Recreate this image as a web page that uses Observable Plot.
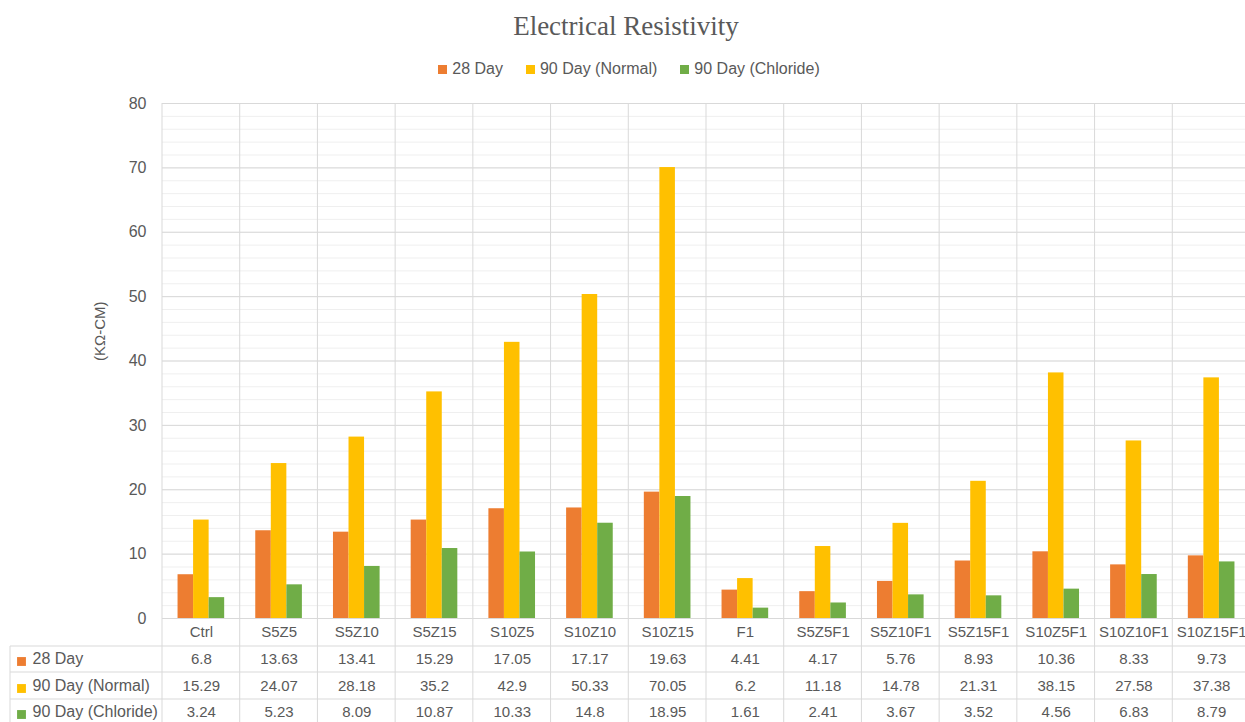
<!DOCTYPE html>
<html>
<head>
<meta charset="utf-8">
<script src="https://cdn.jsdelivr.net/npm/d3@7"></script>
<script src="https://cdn.jsdelivr.net/npm/@observablehq/plot@0.6"></script>
<style>
  html, body { margin: 0; padding: 0; overflow: hidden; background: #fff; font-family: "Liberation Sans", sans-serif; color: #595959; }
  #head { position: relative; width: 1245px; height: 88px; }
  #title { position: absolute; top: 11px; left: 0; width: 1252px; text-align: center; font-family: "Liberation Serif", serif; font-size: 27px; color: #595959; }
  #legend { position: absolute; top: 60px; left: 0; width: 1258px; display: flex; justify-content: center; gap: 23px; font-size: 16px; }
  #legend .item { display: flex; align-items: center; }
  #legend .sw { width: 9px; height: 9px; margin-right: 5px; }
  #chart { width: 1250px; }
  #chart svg { display: block; overflow: visible; max-width: none !important; }
</style>
</head>
<body>
<div id="head">
  <div id="title">Electrical Resistivity</div>
  <div id="legend"></div>
</div>
<div id="chart"></div>
<script>
const categories = ["Ctrl","S5Z5","S5Z10","S5Z15","S10Z5","S10Z10","S10Z15","F1","S5Z5F1","S5Z10F1","S5Z15F1","S10Z5F1","S10Z10F1","S10Z15F1"];
const series = ["28 Day","90 Day (Normal)","90 Day (Chloride)"];
const day28 = [6.8,13.63,13.41,15.29,17.05,17.17,19.63,4.41,4.17,5.76,8.93,10.36,8.33,9.73];
const day90Normal = [15.29,24.07,28.18,35.2,42.9,50.33,70.05,6.2,11.18,14.78,21.31,38.15,27.58,37.38];
const day90Chloride = [3.24,5.23,8.09,10.87,10.33,14.8,18.95,1.61,2.41,3.67,3.52,4.56,6.83,8.79];
const colors = ["#ED7D31","#FFC000","#70AD47"];
const yTicks = [0,10,20,30,40,50,60,70,80];
const yMinorTicks = [0,2,4,6,8,10,12,14,16,18,20,22,24,26,28,30,32,34,36,38,40,42,44,46,48,50,52,54,56,58,60,62,64,66,68,70,72,74,76,78,80];
const yLabel = "(KΩ-CM)";

const valuesBySeries = [day28, day90Normal, day90Chloride];
const data = series.flatMap((s, i) => categories.map((c, j) => ({series: s, category: c, value: valuesBySeries[i][j]})));

// legend
const legend = document.getElementById("legend");
series.forEach((s, i) => {
  const it = document.createElement("div");
  it.className = "item";
  it.innerHTML = `<span class="sw" style="background:${colors[i]}"></span><span>${s}</span>`;
  legend.appendChild(it);
});

const rowDy = [41, 68, 94];
const first = categories[0];

const plot = Plot.plot({
  width: 1250,
  height: 634,
  marginLeft: 162,
  marginRight: 0,
  marginTop: 15,
  marginBottom: 104,
  style: {color: "#595959", fontFamily: "Liberation Sans, sans-serif", fontSize: "15px", background: "transparent", maxWidth: "none"},
  fx: {domain: categories, padding: 0, round: false, axis: null},
  x: {domain: series, paddingInner: 0, paddingOuter: 1, round: false, axis: null},
  y: {domain: [0, 80], axis: null},
  color: {domain: series, range: colors},
  marks: [
    Plot.ruleY(yMinorTicks, {stroke: "#efefef"}),
    Plot.ruleY(yTicks, {stroke: "#d9d9d9"}),
    Plot.barY(data, {fx: "category", x: "series", y: "value", fill: "series"}),
    Plot.axisY({ticks: yTicks, tickSize: 0, tickPadding: 16, fontSize: 16, label: null}),
    Plot.text([yLabel], {fx: () => first, text: d => d, frameAnchor: "left", dx: -62, rotate: -90, fontSize: 15}),
    Plot.text(categories, {fx: d => d, text: d => d, frameAnchor: "bottom", dy: 18, fontSize: 15}),
    ...series.map((s, i) => Plot.text(data.filter(d => d.series === s), {fx: "category", text: d => String(d.value), frameAnchor: "bottom", dy: rowDy[i] + 4, fontSize: 15})),
    ...series.map((s, i) => Plot.text([s], {fx: () => first, text: d => d, frameAnchor: "bottom-left", textAnchor: "start", dx: -130, dy: rowDy[i] + 4, fontSize: 16})),
    ...series.map((s, i) => Plot.dot([s], {fx: () => first, frameAnchor: "bottom-left", dx: -141, dy: rowDy[i] + 2, symbol: "square", r: 5, fill: colors[i]}))
  ]
});

document.getElementById("chart").appendChild(plot);

// table / category grid lines, positioned from Plot's own scales
const svg = d3.select(plot);
const fx = plot.scale("fx");
const ys = plot.scale("y");
const y0 = ys.apply(0), yTop = ys.apply(80);
const bw = fx.bandwidth;
const bounds = categories.map(c => fx.apply(c));
bounds.push(fx.apply(categories[categories.length - 1]) + bw);
const g = svg.append("g").attr("stroke", "#d9d9d9").attr("stroke-width", 1);
bounds.forEach(x => g.append("line").attr("x1", x).attr("x2", x).attr("y1", yTop).attr("y2", 700));
const tableLeft = 10;
const lineOffsets = [28, 54, 81];
lineOffsets.forEach(o => g.append("line").attr("x1", tableLeft).attr("x2", bounds[bounds.length - 1]).attr("y1", y0 + o).attr("y2", y0 + o));
g.append("line").attr("x1", tableLeft).attr("x2", tableLeft).attr("y1", y0 + 28).attr("y2", 700);
</script>
</body>
</html>
